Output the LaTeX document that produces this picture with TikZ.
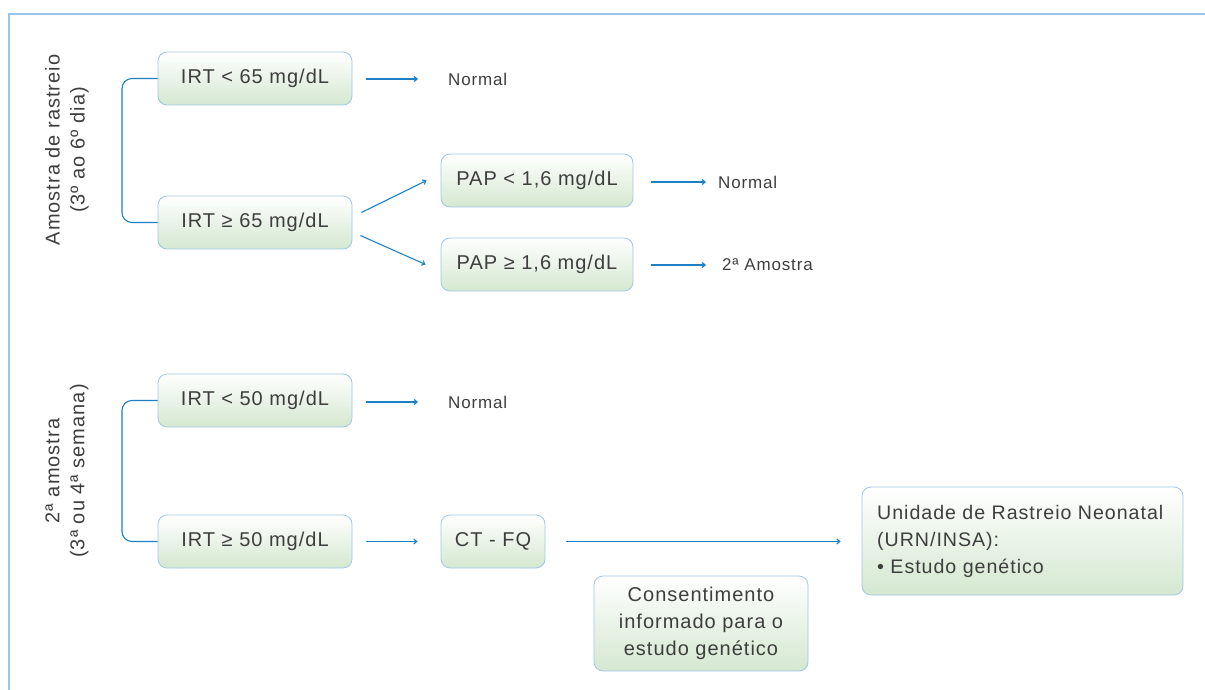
\documentclass[tikz,border=0pt]{standalone}
\usepackage{fontspec}
\setmainfont{Liberation Sans}[LetterSpace=5]
\usetikzlibrary{arrows.meta,calc}
\definecolor{boxline}{RGB}{160,198,232}
\definecolor{boxbot}{RGB}{212,232,208}
\definecolor{txt}{RGB}{62,62,62}
\definecolor{arrc}{RGB}{30,128,196}
\definecolor{framec}{RGB}{156,196,230}
\begin{document}
\begin{tikzpicture}[x=1pt,y=-1pt,
  box/.style={draw=boxline, line width=0.8pt, rounded corners=9pt, top color=white, bottom color=boxbot, text=txt, font=\fontsize{20}{27}\selectfont, align=center, inner sep=0pt},
  lbl/.style={text=txt, font=\fontsize{17}{20}\selectfont, inner sep=0pt, anchor=west},
  side/.style={text=txt, font=\fontsize{20}{25}\selectfont, align=center, rotate=90, inner sep=0pt},
  arr/.style={draw=arrc, line width=1.1pt, -{Straight Barb[length=3pt,width=5pt]}},
  bline/.style={draw=arrc, line width=1.1pt, rounded corners=10pt},
  framel/.style={draw=framec, line width=1.2pt}]
\useasboundingbox (0,0) rectangle (1205,690);
\draw[framel] (9,690) -- (9,14) -- (1205,14);

% side labels
\node[side] (s1) at (67,150) {Amostra de rastreio\\(3º ao 6º dia)};
\node[side] (s2) at (67,471) {2ª amostra\\(3ª ou 4ª semana)};

% boxes
\node[box, minimum width=194pt, minimum height=53pt] (a1) at (255,78.5) {IRT < 65 mg/dL};
\node[box, minimum width=194pt, minimum height=53pt] (a2) at (255,222.5) {IRT ≥ 65 mg/dL};
\node[box, minimum width=192pt, minimum height=53pt] (p1) at (537,180.5) {PAP < 1,6 mg/dL};
\node[box, minimum width=192pt, minimum height=53pt] (p2) at (537,264.5) {PAP ≥ 1,6 mg/dL};
\node[box, minimum width=194pt, minimum height=53pt] (b1) at (255,400.5) {IRT < 50 mg/dL};
\node[box, minimum width=194pt, minimum height=53pt] (b2) at (255,541.5) {IRT ≥ 50 mg/dL};
\node[box, minimum width=104pt, minimum height=53pt] (ct) at (493,541.5) {CT - FQ};
\node[box, minimum width=214pt, minimum height=95pt] (cons) at (701,623.5) {Consentimento\\informado para o\\estudo genético};
\node[box, minimum width=321pt, minimum height=108pt] (urn) at (1022.5,541) {};
\node[text=txt, font=\fontsize{19.6}{27}\selectfont, align=left, anchor=north west, inner sep=0pt] (urnt) at (877,505) {Unidade de Rastreio Neonatal\\(URN/INSA):\\• Estudo genético};

% outcome labels
\node[lbl] (n1) at (448,79) {Normal};
\node[lbl] (n2) at (718,182) {Normal};
\node[lbl] (n3) at (722,265) {2ª Amostra};
\node[lbl] (n4) at (448,402) {Normal};

% brackets
\coordinate (xb) at (122,0);
\draw[bline] (a1.west) -- (a1.west -| xb) -- (a2.west -| xb) -- (a2.west);
\draw[bline] (b1.west) -- (b1.west -| xb) -- (b2.west -| xb) -- (b2.west);

% arrows
\draw[arr, shorten <=14pt, shorten >=30pt] (a1.east |- n1.west) -- (n1.west);
\draw[arr] ($(a2.east)+(9,-10)$) -- ($(p1.west)+(-14,0)$);
\draw[arr] ($(a2.east)+(8,13)$) -- ($(p2.west)+(-15,0)$);
\draw[arr, shorten <=18pt, shorten >=12pt] (p1.east |- n2.west) -- (n2.west);
\draw[arr, shorten <=18pt, shorten >=16pt] (p2.east |- n3.west) -- (n3.west);
\draw[arr, shorten <=14pt, shorten >=30pt] (b1.east |- n4.west) -- (n4.west);
\draw[arr, shorten <=14pt, shorten >=23pt] (b2.east) -- (ct.west);
\draw[arr, shorten <=21pt, shorten >=21pt] (ct.east) -- (urn.west |- ct.east);
\end{tikzpicture}
\end{document}
